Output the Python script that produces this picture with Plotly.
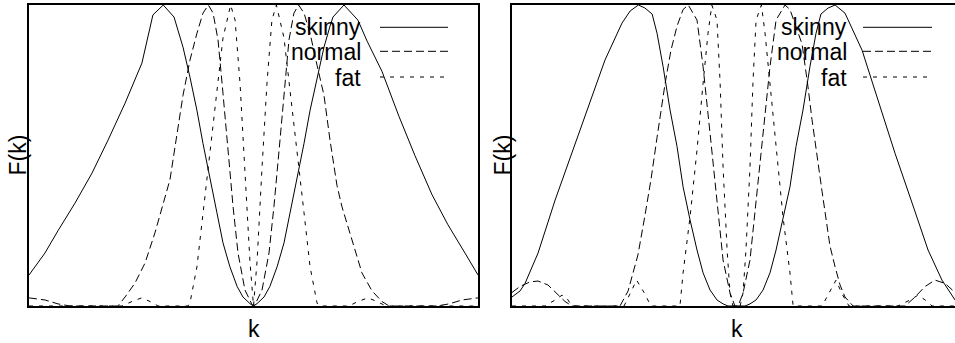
import plotly.graph_objects as go

# ---------------- data (k normalised to [-1, 1]) -------------
# Left panel
kL_skinny = [-1.000, -0.929, -0.871, -0.795, -0.719, -0.648, -0.572, -0.497, -0.448, -0.402,
             -0.354, -0.341, -0.314, -0.283, -0.252, -0.225, -0.194, -0.163, -0.136, -0.105,
             -0.073, -0.047, -0.016, 0.000, 0.016, 0.047, 0.073, 0.105, 0.136, 0.163,
             0.194, 0.225, 0.252, 0.283, 0.314, 0.341, 0.354, 0.403, 0.448, 0.465,
             0.506, 0.572, 0.648, 0.719, 0.795, 0.866, 0.942, 1.000]
FL_skinny = [0.103, 0.176, 0.250, 0.342, 0.442, 0.551, 0.674, 0.807, 0.967, 1.000,
             0.960, 0.930, 0.860, 0.760, 0.650, 0.540, 0.420, 0.310, 0.210, 0.130,
             0.065, 0.030, 0.008, 0.000, 0.008, 0.030, 0.065, 0.130, 0.210, 0.310,
             0.420, 0.540, 0.650, 0.760, 0.860, 0.930, 0.960, 1.000, 0.965, 0.950,
             0.880, 0.780, 0.630, 0.500, 0.370, 0.270, 0.176, 0.103]

kL_normal = [-1.000, -0.929, -0.871, -0.817, -0.604, -0.572, -0.528, -0.483, -0.439, -0.394,
             -0.372, -0.341, -0.314, -0.283, -0.252, -0.225, -0.201, -0.180, -0.158, -0.136,
             -0.114, -0.091, -0.069, -0.038, -0.008, 0.000, 0.008, 0.038, 0.069, 0.091,
             0.114, 0.136, 0.158, 0.180, 0.201, 0.225, 0.252, 0.283, 0.314, 0.341,
             0.372, 0.394, 0.439, 0.483, 0.528, 0.572, 0.604, 0.817, 0.871, 0.929, 1.000]
FL_normal = [0.027, 0.020, 0.007, 0.000, 0.000, 0.030, 0.076, 0.143, 0.243, 0.362,
             0.420, 0.570, 0.700, 0.817, 0.906, 0.973, 1.000, 0.973, 0.884, 0.707,
             0.518, 0.330, 0.176, 0.053, 0.007, 0.000, 0.007, 0.053, 0.176, 0.330,
             0.518, 0.707, 0.884, 0.973, 1.000, 0.973, 0.906, 0.800, 0.700, 0.550,
             0.400, 0.330, 0.220, 0.110, 0.050, 0.015, 0.000, 0.000, 0.007, 0.020, 0.027]

kL_fat = [-1.000, -0.586, -0.541, -0.498, -0.461, -0.425, -0.292, -0.283, -0.252, -0.225,
          -0.194, -0.163, -0.136, -0.102, -0.082, -0.060, -0.038, -0.016, 0.000, 0.016,
          0.038, 0.060, 0.082, 0.102, 0.136, 0.163, 0.194, 0.225, 0.252, 0.283,
          0.292, 0.425, 0.465, 0.510, 0.550, 0.590, 1.000]
FL_fat = [0.000, 0.000, 0.015, 0.027, 0.015, 0.000, 0.000, 0.010, 0.130, 0.310,
          0.520, 0.720, 0.890, 1.000, 0.950, 0.740, 0.460, 0.150, 0.000, 0.150,
          0.460, 0.740, 0.950, 1.000, 0.890, 0.720, 0.520, 0.310, 0.130, 0.010,
          0.000, 0.000, 0.015, 0.027, 0.015, 0.000, 0.000]

# Right panel
kR_skinny = [-1.000, -0.964, -0.942, -0.906, -0.884, -0.808, -0.733, -0.661, -0.586, -0.510,
             -0.474, -0.437, -0.408, -0.376, -0.354, -0.327, -0.296, -0.265, -0.238, -0.207,
             -0.176, -0.149, -0.118, -0.087, -0.060, -0.038, 0.038, 0.060, 0.087, 0.118,
             0.149, 0.176, 0.207, 0.238, 0.265, 0.296, 0.327, 0.354, 0.376, 0.408,
             0.439, 0.483, 0.559, 0.630, 0.706, 0.782, 0.853, 0.915, 0.973]
FR_skinny = [0.030, 0.050, 0.075, 0.140, 0.176, 0.352, 0.507, 0.662, 0.817, 0.940,
             0.980, 1.000, 0.990, 0.970, 0.906, 0.795, 0.651, 0.530, 0.396, 0.286,
             0.186, 0.110, 0.053, 0.020, 0.007, 0.000, 0.000, 0.007, 0.020, 0.053,
             0.110, 0.186, 0.286, 0.396, 0.530, 0.651, 0.795, 0.906, 0.970, 0.990,
             1.000, 0.973, 0.850, 0.684, 0.507, 0.342, 0.186, 0.086, 0.020]

kR_normal = [-1.000, -0.964, -0.920, -0.884, -0.840, -0.804, -0.764, -0.733, -0.519, -0.483,
             -0.439, -0.408, -0.381, -0.354, -0.318, -0.292, -0.265, -0.238, -0.215, -0.176,
             -0.149, -0.118, -0.087, -0.060, -0.029, -0.007, 0.007, 0.029, 0.060, 0.087,
             0.118, 0.149, 0.176, 0.216, 0.238, 0.265, 0.292, 0.318, 0.336, 0.381,
             0.416, 0.439, 0.461, 0.483, 0.519, 0.751, 0.795, 0.840, 0.884, 0.929, 0.973]
FR_normal = [0.045, 0.065, 0.080, 0.083, 0.070, 0.045, 0.015, 0.000, 0.000, 0.050,
             0.170, 0.300, 0.420, 0.560, 0.740, 0.850, 0.930, 0.985, 1.000, 0.950,
             0.795, 0.574, 0.352, 0.153, 0.043, 0.000, 0.000, 0.043, 0.153, 0.352,
             0.574, 0.795, 0.950, 1.000, 0.985, 0.930, 0.870, 0.730, 0.620, 0.380,
             0.200, 0.130, 0.070, 0.030, 0.000, 0.000, 0.030, 0.065, 0.086, 0.075, 0.045]

kR_fat = [-1.000, -0.853, -0.808, -0.777, -0.755, -0.733, -0.501, -0.474, -0.445, -0.412,
          -0.381, -0.252, -0.238, -0.207, -0.176, -0.149, -0.127, -0.110, -0.087, -0.073,
          -0.060, -0.042, -0.029, -0.016, 0.016, 0.029, 0.042, 0.060, 0.073, 0.087,
          0.111, 0.127, 0.149, 0.176, 0.207, 0.238, 0.252, 0.381, 0.412, 0.443,
          0.470, 0.501, 0.719, 0.773, 0.808, 0.840, 0.871, 0.973]
FR_fat = [0.000, 0.000, 0.020, 0.036, 0.025, 0.000, 0.000, 0.040, 0.086, 0.045,
          0.000, 0.000, 0.110, 0.296, 0.518, 0.740, 0.906, 1.000, 0.950, 0.740,
          0.462, 0.186, 0.043, 0.000, 0.000, 0.043, 0.186, 0.462, 0.740, 0.950,
          1.000, 0.906, 0.740, 0.518, 0.296, 0.110, 0.000, 0.000, 0.045, 0.086,
          0.040, 0.000, 0.000, 0.020, 0.036, 0.020, 0.000, 0.000]

series_names = ["skinny", "normal", "fat"]
x_title = "k"
y_title = "F(k)"

# ---------------- figure ----------------
W, H = 955, 343
ML, MR, MT, MB = 29, 0, 5, 37
PW, PH = W - ML - MR, H - MT - MB
FONT = "Liberation Sans, Arial, sans-serif"
FS = 23

styles = {
    "skinny": dict(color="black", width=1, dash="solid"),
    "normal": dict(color="black", width=1, dash="8px,4px"),
    "fat": dict(color="black", width=1, dash="4px,6px"),
}

def px_x(p):
    return (p - ML) / PW

def px_y(p):
    return 1 - (p - MT) / PH

fig = go.Figure()
left = {"skinny": (kL_skinny, FL_skinny), "normal": (kL_normal, FL_normal), "fat": (kL_fat, FL_fat)}
right = {"skinny": (kR_skinny, FR_skinny), "normal": (kR_normal, FR_normal), "fat": (kR_fat, FR_fat)}
for name in series_names:
    xs, ys = left[name]
    fig.add_trace(go.Scatter(x=xs, y=ys, mode="lines", line=styles[name], name=name,
                             xaxis="x", yaxis="y", showlegend=False, hoverinfo="skip"))
for name in series_names:
    xs, ys = right[name]
    fig.add_trace(go.Scatter(x=xs, y=ys, mode="lines", line=styles[name], name=name,
                             xaxis="x2", yaxis="y2", showlegend=False, hoverinfo="skip"))

ax = dict(showline=True, linecolor="black", linewidth=2, ticks="", showticklabels=False,
          showgrid=False, zeroline=False, fixedrange=True)
fig.update_layout(
    width=W, height=H,
    margin=dict(l=ML, r=MR, t=MT, b=MB, pad=0),
    paper_bgcolor="white", plot_bgcolor="white",
    font=dict(family=FONT, size=FS, color="black"),
    xaxis=dict(domain=[0, px_x(478)], range=[-1, 1], anchor="y", mirror=True, **ax),
    yaxis=dict(domain=[0, 1], range=[0, 1], anchor="x", mirror=True, **ax),
    xaxis2=dict(domain=[px_x(512), 1], range=[-1, 0.973], anchor="y2", mirror=True, **ax),
    yaxis2=dict(domain=[0, 1], range=[0, 1], anchor="x2", mirror=False, **ax),
)

annotations = []
shapes = []
# axis titles
for cx, fy in [(253.5, 17.5), (736.5, 502.5)]:
    annotations.append(dict(text=x_title, x=px_x(cx), y=px_y(329), xref="paper", yref="paper",
                            xanchor="center", yanchor="middle", showarrow=False))
    annotations.append(dict(text=y_title, x=px_x(fy), y=px_y(155), xref="paper", yref="paper",
                            xanchor="center", yanchor="middle", textangle=-90, showarrow=False))
# legends (gnuplot style: right-aligned label, sample line at right)
line_rows = [27.3, 51.3, 77.0]
text_rows = [27.0, 52.5, 78.0]
for text_right, l0, l1 in [(362, 380, 448), (848, 863, 932)]:
    for name, ly, ty in zip(series_names, line_rows, text_rows):
        annotations.append(dict(text=name, x=px_x(text_right), y=px_y(ty), xref="paper",
                                yref="paper", xanchor="right", yanchor="middle", showarrow=False,
                                borderpad=0))
        shapes.append(dict(type="line", xref="paper", yref="paper", x0=px_x(l0), x1=px_x(l1),
                           y0=px_y(ly), y1=px_y(ly), line=styles[name]))
fig.update_layout(annotations=annotations, shapes=shapes)

fig.write_html("out.html")
